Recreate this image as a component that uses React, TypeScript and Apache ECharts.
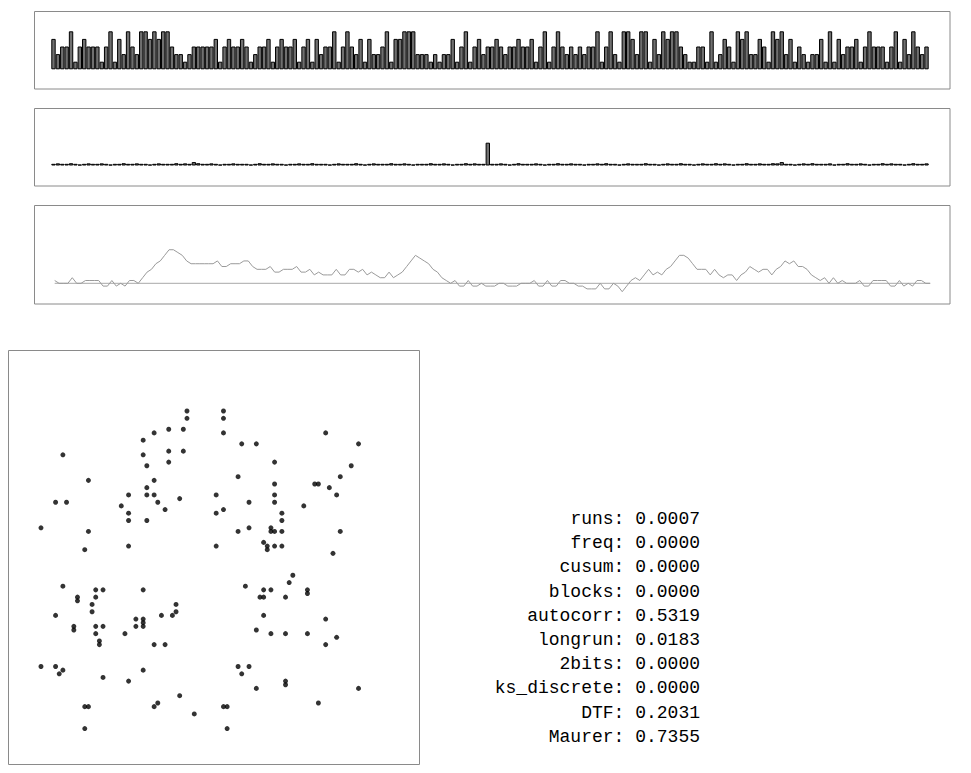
import React, { useEffect, useRef } from "react";
import * as echarts from "echarts";

// Top panel: per-block counts (levels 1..5)
const blockCounts = [
  4, 2, 3, 3, 5, 1, 3, 4, 3, 3, 3, 1, 3, 5, 1, 4, 2, 5, 3, 2,
  5, 5, 4, 5, 4, 5, 5, 3, 2, 2, 1, 2, 3, 3, 3, 3, 3, 4, 1, 3,
  4, 3, 3, 4, 3, 1, 2, 3, 3, 4, 1, 3, 4, 3, 3, 4, 1, 3, 4, 1,
  4, 2, 3, 3, 5, 1, 3, 5, 3, 2, 4, 1, 4, 2, 2, 3, 5, 1, 4, 4,
  5, 5, 5, 2, 2, 2, 1, 2, 1, 2, 2, 4, 1, 3, 5, 1, 3, 4, 2, 3,
  3, 4, 3, 2, 3, 3, 4, 3, 3, 4, 1, 3, 5, 1, 3, 5, 3, 2, 3, 2,
  3, 2, 3, 3, 5, 1, 3, 5, 2, 1, 5, 5, 4, 2, 5, 5, 1, 4, 2, 5,
  4, 5, 5, 3, 2, 1, 1, 3, 3, 1, 5, 1, 2, 4, 3, 1, 5, 4, 5, 2,
  2, 4, 3, 1, 5, 4, 5, 2, 4, 1, 3, 2, 1, 2, 2, 4, 1, 5, 1, 4,
  2, 3, 3, 4, 1, 3, 5, 3, 3, 3, 1, 3, 5, 1, 4, 2, 5, 3, 2, 3,
];

// Middle panel: spectrum magnitudes
const spectrum = [
  0.22, 0.28, 0.22, 0.22, 0.3, 0.22, 0.12, 0.22, 0.28, 0.22, 0.22, 0.28, 0.22, 0.12, 0.22, 0.22, 0.3, 0.22, 0.22, 0.28,
  0.22, 0.22, 0.12, 0.22, 0.28, 0.22, 0.22, 0.22, 0.3, 0.22, 0.28, 0.22, 0.45, 0.3, 0.22, 0.22, 0.28, 0.22, 0.12, 0.22,
  0.22, 0.28, 0.22, 0.22, 0.22, 0.12, 0.22, 0.3, 0.22, 0.22, 0.28, 0.22, 0.22, 0.12, 0.22, 0.22, 0.28, 0.22, 0.22, 0.3,
  0.22, 0.22, 0.22, 0.12, 0.22, 0.28, 0.22, 0.22, 0.22, 0.3, 0.22, 0.12, 0.22, 0.28, 0.22, 0.22, 0.22, 0.3, 0.22, 0.22,
  0.28, 0.22, 0.12, 0.22, 0.22, 0.22, 0.3, 0.22, 0.22, 0.28, 0.22, 0.12, 0.22, 0.22, 0.3, 0.22, 0.28, 0.22, 0.22, 3.0,
  0.22, 0.22, 0.28, 0.22, 0.12, 0.22, 0.3, 0.22, 0.22, 0.22, 0.28, 0.22, 0.12, 0.22, 0.22, 0.3, 0.22, 0.22, 0.28, 0.22,
  0.22, 0.12, 0.22, 0.22, 0.28, 0.22, 0.3, 0.22, 0.22, 0.12, 0.22, 0.28, 0.22, 0.22, 0.22, 0.3, 0.22, 0.22, 0.12, 0.22,
  0.28, 0.22, 0.22, 0.3, 0.22, 0.22, 0.12, 0.22, 0.28, 0.22, 0.22, 0.3, 0.22, 0.28, 0.22, 0.12, 0.22, 0.22, 0.3, 0.22,
  0.22, 0.28, 0.22, 0.22, 0.3, 0.28, 0.45, 0.22, 0.22, 0.12, 0.22, 0.28, 0.22, 0.3, 0.22, 0.22, 0.22, 0.28, 0.12, 0.22,
  0.22, 0.3, 0.22, 0.22, 0.28, 0.22, 0.12, 0.22, 0.22, 0.3, 0.22, 0.28, 0.22, 0.22, 0.12, 0.22, 0.3, 0.22, 0.22, 0.28,
];

// Third panel: cumulative walk
const walk = [
  1, 0, 0, 0, 2, 0, 0, 1, 1, 1, 1, -1, -1, 1, -1, 0, -1, 1, 1, 0,
  2, 4, 5, 7, 8, 10, 12, 12, 11, 10, 8, 7, 7, 7, 7, 7, 7, 8, 6, 6,
  7, 7, 7, 8, 8, 6, 5, 5, 5, 6, 4, 4, 5, 5, 5, 6, 4, 4, 5, 3,
  4, 3, 3, 3, 5, 3, 3, 5, 5, 4, 5, 3, 4, 3, 2, 2, 4, 2, 3, 4,
  6, 8, 10, 9, 8, 7, 5, 4, 2, 1, 0, 1, -1, -1, 1, -1, -1, 0, -1, -1,
  -1, 0, 0, -1, -1, -1, 0, 0, 0, 1, -1, -1, 1, -1, -1, 1, 1, 0, 0, -1,
  -1, -2, -2, -2, 0, -2, -2, 0, -1, -3, -1, 1, 2, 1, 3, 5, 3, 4, 3, 5,
  6, 8, 10, 10, 9, 7, 5, 5, 5, 3, 5, 3, 2, 3, 3, 1, 3, 4, 6, 5,
  4, 5, 5, 3, 5, 6, 8, 7, 8, 6, 6, 5, 3, 2, 1, 2, 0, 2, 0, 1,
  0, 0, 0, 1, -1, -1, 1, 1, 1, 1, -1, -1, 1, -1, 0, -1, 1, 1, 0, 0,
];

// Scatter: pairs of successive values
const scatterX = [
  49, 59, 49, 59, 40, 44, 48, 59, 87, 37, 64, 68, 96, 15, 37, 44, 48, 44, 73, 38,
  94, 22, 63, 91, 40, 38, 73, 84, 85, 88, 33, 38, 40, 57, 73, 90, 13, 16, 41, 47,
  66, 73, 31, 81, 43, 59, 33, 57, 75, 33, 38, 75, 9, 22, 63, 66, 72, 72, 73, 75,
  91, 21, 33, 57, 70, 71, 71, 73, 75, 89, 78, 77, 15, 65, 24, 26, 37, 70, 72, 82,
  82, 19, 19, 24, 69, 70, 76, 23, 46, 13, 23, 42, 45, 46, 70, 87, 35, 37, 37, 18,
  18, 24, 26, 35, 37, 68, 24, 32, 72, 76, 82, 90, 25, 25, 40, 43, 87, 9, 13, 15,
  14, 63, 66, 64, 37, 26, 33, 76, 76, 68, 96, 47, 85, 21, 22, 40, 41, 59, 60, 51,
  21, 60,
];
const scatterY = [
  16, 16, 18, 18, 22, 21, 21, 22, 22, 24, 25, 25, 25, 28, 28, 27, 27, 30, 30, 31,
  31, 35, 34, 34, 35, 37, 36, 36, 36, 37, 39, 39, 39, 39, 39, 39, 41, 41, 41, 40,
  41, 41, 42, 42, 43, 43, 44, 44, 44, 46, 46, 46, 48, 49, 49, 48, 48, 49, 49, 49,
  49, 54, 53, 53, 52, 53, 54, 53, 53, 55, 61, 63, 64, 64, 65, 65, 65, 65, 65, 65,
  66, 67, 68, 67, 67, 67, 67, 69, 69, 72, 71, 72, 72, 71, 72, 73, 73, 73, 74, 75,
  76, 75, 75, 75, 75, 76, 77, 77, 77, 77, 77, 78, 79, 80, 80, 80, 80, 86, 86, 87,
  88, 86, 86, 88, 87, 89, 90, 90, 91, 92, 92, 94, 96, 97, 97, 97, 96, 97, 97, 99,
  103, 103,
];

const testNames = ["runs", "freq", "cusum", "blocks", "autocorr", "longrun", "2bits", "ks_discrete", "DTF", "Maurer"];
const testPValues = ["0.0007", "0.0000", "0.0000", "0.0000", "0.5319", "0.0183", "0.0000", "0.0000", "0.2031", "0.7355"];

export default function App() {
  const ref = useRef<HTMLDivElement>(null);

  useEffect(() => {
    if (!ref.current) return;
    const chart = echarts.init(ref.current, undefined, { renderer: "svg" });

    const cats = blockCounts.map((_, i) => String(i));
    const walkData = walk.map((v, i) => [i, v]);
    const zeroLine = [[0, 0], [walk.length - 1, 0]];
    const scatterData = scatterX.map((x, i) => [x, scatterY[i]]);

    const panelStyle = { fill: "none", stroke: "#8a8a8a", lineWidth: 1 };
    const panels = [
      { x: 34.5, y: 11.5, width: 915.5, height: 77.5 },
      { x: 34.5, y: 108.5, width: 915.5, height: 77.5 },
      { x: 34.5, y: 205.5, width: 915.5, height: 98.5 },
      { x: 8.5, y: 350.5, width: 411, height: 414 },
    ].map((s) => ({ type: "rect", shape: s, style: panelStyle, silent: true, z: 10 }));

    const texts = testNames.map((n, i) => ({
      type: "text",
      x: 700,
      y: 519 + i * 24.2,
      style: {
        text: `${n}: ${testPValues[i]}`,
        font: '18px "Liberation Mono", "DejaVu Sans Mono", monospace',
        fill: "#000",
        align: "right",
        verticalAlign: "middle",
        textAlign: "right",
        textVerticalAlign: "middle",
      },
    }));

    const barStyle = { color: "#707070", borderColor: "#000", borderWidth: 1 };

    chart.setOption({
      animation: false,
      backgroundColor: "#fff",
      grid: [
        { left: 51.3, top: 31.3, width: 877.4, height: 38 },
        { left: 51.3, top: 127.5, width: 877.4, height: 38 },
        { left: 34, top: 205, width: 916, height: 99 },
        { left: 8.13, top: 352.6, width: 401.5, height: 401.5 },
      ],
      xAxis: [
        { gridIndex: 0, type: "category", data: cats, show: false },
        { gridIndex: 1, type: "category", data: cats, show: false },
        { gridIndex: 2, type: "value", min: -4.7, max: 203.5, show: false },
        { gridIndex: 3, type: "value", min: 0, max: 110, show: false },
      ],
      yAxis: [
        { gridIndex: 0, type: "value", min: 0, max: 5, show: false },
        { gridIndex: 1, type: "value", min: 0, max: 5, show: false },
        { gridIndex: 2, type: "value", min: -7.4, max: 28, show: false },
        { gridIndex: 3, type: "value", min: 0, max: 110, inverse: true, show: false },
      ],
      series: [
        {
          type: "bar", xAxisIndex: 0, yAxisIndex: 0, data: blockCounts,
          barCategoryGap: "0%", barWidth: "100%", itemStyle: barStyle, silent: true,
        },
        {
          type: "bar", xAxisIndex: 1, yAxisIndex: 1, data: spectrum,
          barCategoryGap: "0%", barWidth: "100%", itemStyle: barStyle, silent: true,
        },
        {
          type: "line", xAxisIndex: 2, yAxisIndex: 2, data: zeroLine,
          symbol: "none", lineStyle: { color: "#a8a8a8", width: 1 }, silent: true,
        },
        {
          type: "line", xAxisIndex: 2, yAxisIndex: 2, data: walkData,
          symbol: "none", lineStyle: { color: "#9a9a9a", width: 1 }, silent: true,
        },
        {
          type: "scatter", xAxisIndex: 3, yAxisIndex: 3, data: scatterData,
          symbol: "circle", symbolSize: 5, itemStyle: { color: "#000" }, silent: true,
        },
      ],
      graphic: [...panels, ...texts],
    });

    return () => chart.dispose();
  }, []);

  return (
    <div
      ref={ref}
      style={{ position: "absolute", left: 0, top: 0, width: 971, height: 773 }}
    />
  );
}
